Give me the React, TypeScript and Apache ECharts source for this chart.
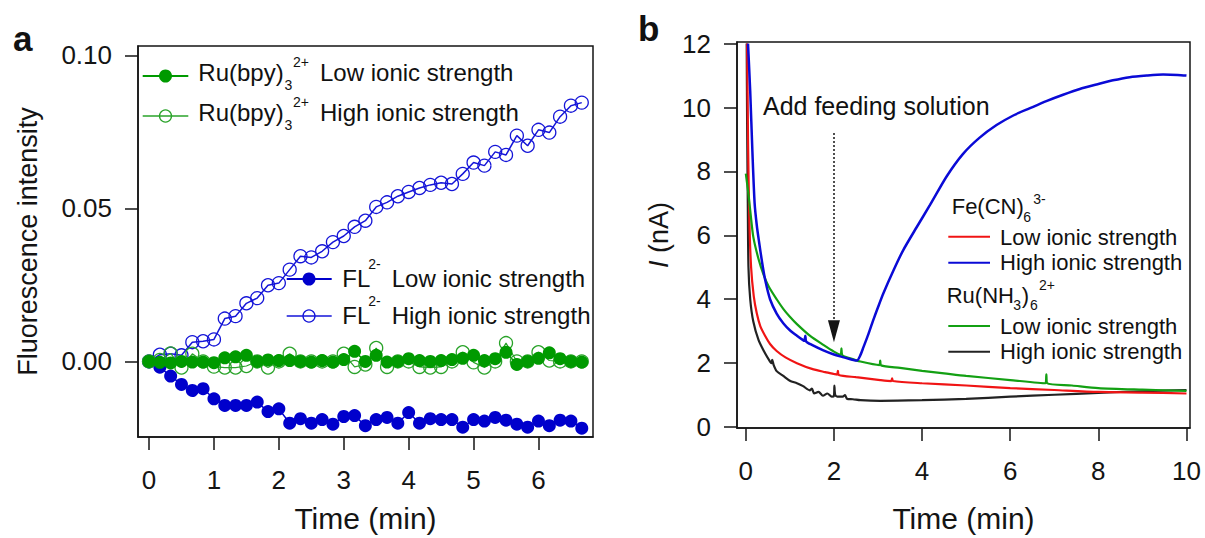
import React, { useEffect, useRef } from "react";
import * as echarts from "echarts";

const FONT = '"Liberation Sans", Arial, Helvetica, sans-serif';
const INK = "#141414";

// ---------- Panel a : fluorescence ----------
const timeA = [0, 0.167, 0.333, 0.5, 0.667, 0.833, 1, 1.167, 1.333, 1.5, 1.667, 1.833, 2, 2.167, 2.333, 2.5, 2.667, 2.833, 3, 3.167, 3.333, 3.5, 3.667, 3.833, 4, 4.167, 4.333, 4.5, 4.667, 4.833, 5, 5.167, 5.333, 5.5, 5.667, 5.833, 6, 6.167, 6.333, 6.5, 6.667];
const ruLow = [0, -0.0003, -0.0005, 0, -0.0002, -0.0002, -0.0004, 0.0012, 0.0015, 0.002, 0, 0.0005, 0.0003, 0.0003, 0, -0.0002, 0.0003, -0.0002, 0.0006, 0.0033, 0, 0.002, -0.0002, 0, 0.0009, 0.0003, 0, 0.0003, 0.0006, 0.001, 0.002, 0.0003, 0.0009, 0.003, -0.001, 0, 0.001, 0.0028, 0.0009, 0, -0.0002];
const ruHigh = [0, 0.0005, 0.0026, -0.002, 0.0025, 0, -0.0017, -0.002, -0.002, -0.0015, 0, -0.002, 0, 0.0025, 0, 0, 0, 0, 0.0025, -0.0018, -0.001, 0.0044, -0.0018, 0, 0, -0.0018, -0.002, -0.0018, 0, 0.003, -0.0003, -0.002, 0, 0.006, 0, 0, 0.003, 0.0003, 0, 0, 0];
const flLow = [0, -0.0019, -0.0048, -0.0075, -0.0095, -0.0089, -0.0122, -0.0144, -0.0144, -0.0144, -0.0133, -0.0164, -0.0155, -0.0202, -0.0187, -0.0202, -0.019, -0.0205, -0.018, -0.0177, -0.021, -0.019, -0.0183, -0.0202, -0.0167, -0.0202, -0.0187, -0.019, -0.019, -0.0215, -0.019, -0.0195, -0.0183, -0.0192, -0.0205, -0.0215, -0.0195, -0.021, -0.0192, -0.0195, -0.0218];
const flHigh = [0, 0.0022, 0.0025, 0.002, 0.0063, 0.0066, 0.0072, 0.014, 0.0148, 0.019, 0.0207, 0.0249, 0.0256, 0.03, 0.0344, 0.034, 0.036, 0.039, 0.041, 0.044, 0.046, 0.0505, 0.052, 0.054, 0.0554, 0.0567, 0.0577, 0.0584, 0.058, 0.0613, 0.065, 0.064, 0.0685, 0.0675, 0.0738, 0.0705, 0.0757, 0.0748, 0.08, 0.0836, 0.0846];
const ticksAX = [0, 1, 2, 3, 4, 5, 6];
const ticksAY = [0, 0.05, 0.1];

// ---------- Panel b : current ----------
const feLowT = [0.03, 0.05, 0.08, 0.12, 0.18, 0.25, 0.33, 0.44, 0.55, 0.7, 0.9, 1.16, 1.5, 1.8, 2.0, 2.07, 2.09, 2.11, 2.5, 3.05, 3.3, 3.32, 3.34, 4, 5, 6, 7, 8, 9, 10];
const feLowI = [12, 9, 6.5, 5.0, 4.1, 3.55, 3.15, 2.85, 2.6, 2.38, 2.18, 2.0, 1.82, 1.72, 1.66, 1.64, 1.76, 1.63, 1.56, 1.47, 1.44, 1.52, 1.44, 1.37, 1.3, 1.22, 1.16, 1.1, 1.08, 1.05];
const feHighT = [0.05, 0.1, 0.15, 0.2, 0.25, 0.3, 0.37, 0.44, 0.55, 0.7, 0.85, 1.0, 1.16, 1.3, 1.33, 1.35, 1.37, 1.5, 1.76, 2.0, 2.14, 2.3, 2.44, 2.52, 2.6, 2.67, 2.78, 2.89, 3.0, 3.12, 3.35, 3.57, 3.88, 4.18, 4.56, 4.93, 5.3, 5.69, 6.07, 6.45, 6.82, 7.2, 7.58, 7.96, 8.33, 8.71, 9.1, 9.47, 9.8, 10];
const feHighI = [12, 10.5, 8.6, 7.0, 6.3, 5.8, 5.15, 4.6, 4.0, 3.55, 3.25, 3.03, 2.86, 2.72, 2.7, 2.86, 2.68, 2.57, 2.4, 2.27, 2.21, 2.15, 2.1, 2.08, 2.25, 2.5, 2.9, 3.34, 3.75, 4.18, 4.9, 5.53, 6.26, 6.95, 7.85, 8.55, 9.05, 9.45, 9.75, 9.98, 10.2, 10.4, 10.58, 10.72, 10.85, 10.95, 11.0, 11.03, 11.02, 11.0];
const ruLowT = [0, 0.05, 0.1, 0.17, 0.29, 0.4, 0.52, 0.7, 0.85, 1.0, 1.16, 1.46, 1.76, 2.0, 2.15, 2.17, 2.19, 2.37, 2.6, 3.03, 3.05, 3.07, 3.5, 4.0, 4.5, 5, 6, 6.8, 6.82, 6.84, 7.4, 8, 9, 10];
const ruLowI = [7.93, 7.4, 6.78, 5.95, 5.25, 4.78, 4.4, 4.0, 3.7, 3.45, 3.22, 2.85, 2.57, 2.36, 2.26, 2.46, 2.25, 2.15, 2.05, 1.94, 2.08, 1.93, 1.85, 1.76, 1.68, 1.6, 1.47, 1.37, 1.65, 1.37, 1.3, 1.22, 1.17, 1.13];
const ruHighT = [0.02, 0.03, 0.045, 0.06, 0.1, 0.17, 0.29, 0.44, 0.55, 0.58, 0.6, 0.63, 0.7, 0.85, 1.0, 1.16, 1.3, 1.45, 1.5, 1.55, 1.65, 1.75, 1.85, 1.95, 2.0, 2.01, 2.03, 2.1, 2.2, 2.25, 2.3, 2.43, 2.6, 3.05, 4, 5, 6, 7, 8, 9, 10];
const ruHighI = [12, 9.5, 7, 5.0, 4.0, 3.3, 2.72, 2.3, 2.05, 2.0, 2.1, 1.95, 1.75, 1.6, 1.45, 1.37, 1.28, 1.15, 1.2, 1.05, 1.1, 0.98, 1.05, 0.95, 0.97, 1.3, 1.0, 0.95, 0.95, 1.0, 0.88, 0.87, 0.84, 0.82, 0.84, 0.88, 0.95, 1.01, 1.07, 1.12, 1.16];
const ticksBX = [0, 2, 4, 6, 8, 10];
const ticksBY = [0, 2, 4, 6, 8, 10, 12];
const feedTime = 2;
const feedTop = 9.2;
const feedTip = 3.0;

const GREEN = "#009a00";
const GREEN_OPEN = "#2aa32a";
const BLUE = "#0000cc";
const BLUE_OPEN = "#1515d8";
const B_RED = "#f01414";
const B_BLUE = "#0a0ad6";
const B_GREEN = "#13a013";
const B_BLACK = "#222222";

const zip = (t: number[], v: number[]) => t.map((x, i) => [x, v[i]]);

function xAxis(grid: number, min: number, max: number, ticks: number[], nameGap: number) {
  return {
    type: "value",
    gridIndex: grid,
    min,
    max,
    axisLine: { show: true, onZero: false, lineStyle: { color: INK, width: 1.5 } },
    axisTick: { show: true, inside: false, length: 13, customValues: ticks, lineStyle: { color: INK, width: 1.5 } },
    axisLabel: { show: true, customValues: ticks, margin: 30, fontSize: 26, fontFamily: FONT, color: INK },
    splitLine: { show: false },
    name: "Time (min)",
    nameLocation: "middle",
    nameGap,
    nameTextStyle: { fontSize: 30, fontFamily: FONT, color: INK },
  };
}

function yAxis(grid: number, min: number, max: number, ticks: number[], name: string, nameGap: number, fmt: (v: number) => string, rich?: any) {
  return {
    type: "value",
    gridIndex: grid,
    min,
    max,
    axisLine: { show: true, onZero: false, lineStyle: { color: INK, width: 1.5 } },
    axisTick: { show: true, inside: false, length: 13, customValues: ticks, lineStyle: { color: INK, width: 1.5 } },
    axisLabel: { show: true, customValues: ticks, margin: 26, fontSize: 26, fontFamily: FONT, color: INK, formatter: fmt },
    splitLine: { show: false },
    name,
    nameLocation: "middle",
    nameGap,
    nameTextStyle: { fontSize: 27, fontFamily: FONT, color: INK, rich },
  };
}

const txt = (x: number, y: number, text: string, size: number, extra: any = {}) => ({
  type: "text",
  x,
  y,
  silent: true,
  style: { text, fontSize: size, fontFamily: FONT, fill: "#111", align: "left", verticalAlign: "middle", ...extra },
});
const seg = (x1: number, x2: number, y: number, stroke: string, w: number) => ({
  type: "line",
  silent: true,
  shape: { x1, y1: y, x2, y2: y },
  style: { stroke, lineWidth: w },
});
const dot = (cx: number, cy: number, r: number, fill: string, stroke: string, w: number) => ({
  type: "circle",
  silent: true,
  shape: { cx, cy, r },
  style: { fill, stroke, lineWidth: w },
});

const graphics = [
  txt(13, 38, "a", 35, { fontWeight: "bold" }),
  txt(638, 28, "b", 35, { fontWeight: "bold" }),
  // panel a legend (green)
  seg(142.7, 188.3, 76, GREEN, 2),
  dot(165.5, 76, 6.5, GREEN, GREEN, 0),
  txt(198.3, 72.5, "Ru(bpy)", 24),
  txt(284.5, 84.5, "3", 14),
  txt(293, 61.8, "2+", 14),
  txt(320, 72.5, "Low ionic strength", 24),
  seg(142.7, 188.3, 116, GREEN_OPEN, 1.5),
  dot(165.5, 116, 6, "rgba(255,255,255,0)", GREEN_OPEN, 1.3),
  txt(198.3, 112.5, "Ru(bpy)", 24),
  txt(284.5, 124.5, "3", 14),
  txt(293, 101.8, "2+", 14),
  txt(320, 112.5, "High ionic strength", 24),
  // panel a legend (blue)
  seg(286.7, 331.7, 279, BLUE, 2),
  dot(309, 279, 6.5, BLUE, BLUE, 0),
  txt(342.3, 278.3, "FL", 24),
  txt(368.3, 264, "2-", 14),
  txt(391.7, 278.3, "Low ionic strength", 24),
  seg(286.7, 331.7, 316, BLUE_OPEN, 1.5),
  dot(309, 316, 6, "rgba(255,255,255,0)", BLUE_OPEN, 1.3),
  txt(342.3, 315, "FL", 24),
  txt(368.3, 301, "2-", 14),
  txt(391.7, 315, "High ionic strength", 24),
  // panel b legend
  txt(951.7, 206.7, "Fe(CN)", 22),
  txt(1023.3, 216.7, "6", 14),
  txt(1033.3, 199, "3-", 14),
  seg(948.3, 990, 236.7, B_RED, 2),
  txt(1000, 237.5, "Low ionic strength", 22),
  seg(948.3, 990, 262.7, B_BLUE, 2),
  txt(1000, 262.5, "High ionic strength", 22),
  txt(946.7, 295.8, "Ru(NH", 22),
  txt(1013.3, 305, "3", 14),
  txt(1021.7, 295.8, ")", 22),
  txt(1030, 305, "6", 14),
  txt(1039, 285, "2+", 14),
  seg(948.3, 990, 326, B_GREEN, 2),
  txt(1000, 326, "Low ionic strength", 22),
  seg(948.3, 990, 351.7, B_BLACK, 2),
  txt(1000, 351, "High ionic strength", 22),
  // annotation
  txt(763, 106, "Add feeding solution", 25),
];

const lineB = (name: string, t: number[], v: number[], color: string, width: number, extra: any = {}) => ({
  name,
  type: "line",
  xAxisIndex: 1,
  yAxisIndex: 1,
  data: zip(t, v),
  showSymbol: false,
  symbol: "none",
  smooth: 0.25,
  lineStyle: { color, width },
  ...extra,
});

const option: any = {
  animation: false,
  backgroundColor: "#ffffff",
  textStyle: { fontFamily: FONT },
  grid: [
    { left: 138, top: 46, width: 455, height: 391, show: true, borderColor: INK, borderWidth: 1.5, backgroundColor: "transparent" },
    { left: 737, top: 42, width: 453, height: 386, show: true, borderColor: INK, borderWidth: 1.5, backgroundColor: "transparent" },
  ],
  xAxis: [xAxis(0, -0.17, 6.84, ticksAX, 66), xAxis(1, -0.2, 10.08, ticksBX, 75)],
  yAxis: [
    yAxis(0, -0.0247, 0.1031, ticksAY, "Fluorescence intensity", 97, (v: number) => v.toFixed(2)),
    yAxis(1, -0.03, 12.05, ticksBY, "{i|I} (nA)", 65, (v: number) => String(Math.round(v)), {
      i: { fontStyle: "italic", fontSize: 27, fontFamily: FONT, color: INK },
    }),
  ],
  series: [
    {
      name: "FL2- High ionic strength",
      type: "line",
      xAxisIndex: 0,
      yAxisIndex: 0,
      data: zip(timeA, flHigh),
      symbol: "circle",
      symbolSize: 13,
      lineStyle: { color: BLUE_OPEN, width: 1.5 },
      itemStyle: { color: "rgba(255,255,255,0)", borderColor: BLUE_OPEN, borderWidth: 1.3 },
    },
    {
      name: "FL2- Low ionic strength",
      type: "line",
      xAxisIndex: 0,
      yAxisIndex: 0,
      data: zip(timeA, flLow),
      symbol: "circle",
      symbolSize: 13,
      lineStyle: { color: BLUE, width: 1.5 },
      itemStyle: { color: BLUE, borderWidth: 0 },
    },
    {
      name: "Ru(bpy)3 2+ High ionic strength",
      type: "line",
      xAxisIndex: 0,
      yAxisIndex: 0,
      data: zip(timeA, ruHigh),
      symbol: "circle",
      symbolSize: 13,
      lineStyle: { color: GREEN_OPEN, width: 1.2 },
      itemStyle: { color: "rgba(255,255,255,0)", borderColor: GREEN_OPEN, borderWidth: 1.3 },
    },
    {
      name: "Ru(bpy)3 2+ Low ionic strength",
      type: "line",
      xAxisIndex: 0,
      yAxisIndex: 0,
      data: zip(timeA, ruLow),
      symbol: "circle",
      symbolSize: 13,
      lineStyle: { color: GREEN, width: 1.5 },
      itemStyle: { color: GREEN, borderWidth: 0 },
    },
    lineB("Ru(NH3)6 2+ High ionic strength", ruHighT, ruHighI, B_BLACK, 2.2, {
      markLine: {
        silent: true,
        animation: false,
        symbol: ["none", "triangle"],
        symbolSize: [0, 16],
        lineStyle: { type: [2, 2], color: INK, width: 1.5 },
        label: { show: false },
        data: [[{ coord: [feedTime, feedTop] }, { coord: [feedTime, feedTip], symbol: "triangle", symbolSize: [12, 22] }]],
      },
    }),
    lineB("Fe(CN)6 3- Low ionic strength", feLowT, feLowI, B_RED, 2.2),
    lineB("Ru(NH3)6 2+ Low ionic strength", ruLowT, ruLowI, B_GREEN, 2.2),
    lineB("Fe(CN)6 3- High ionic strength", feHighT, feHighI, B_BLUE, 2.5),
  ],
  graphic: graphics,
};

export default function App() {
  const ref = useRef<HTMLDivElement>(null);
  useEffect(() => {
    if (!ref.current) return;
    const chart = echarts.init(ref.current, null, { renderer: "svg" });
    chart.setOption(option);
    return () => chart.dispose();
  }, []);
  return (
    <div
      ref={ref}
      style={{ position: "fixed", left: 0, top: 0, width: 1205, height: 538, background: "#fff" }}
    />
  );
}
